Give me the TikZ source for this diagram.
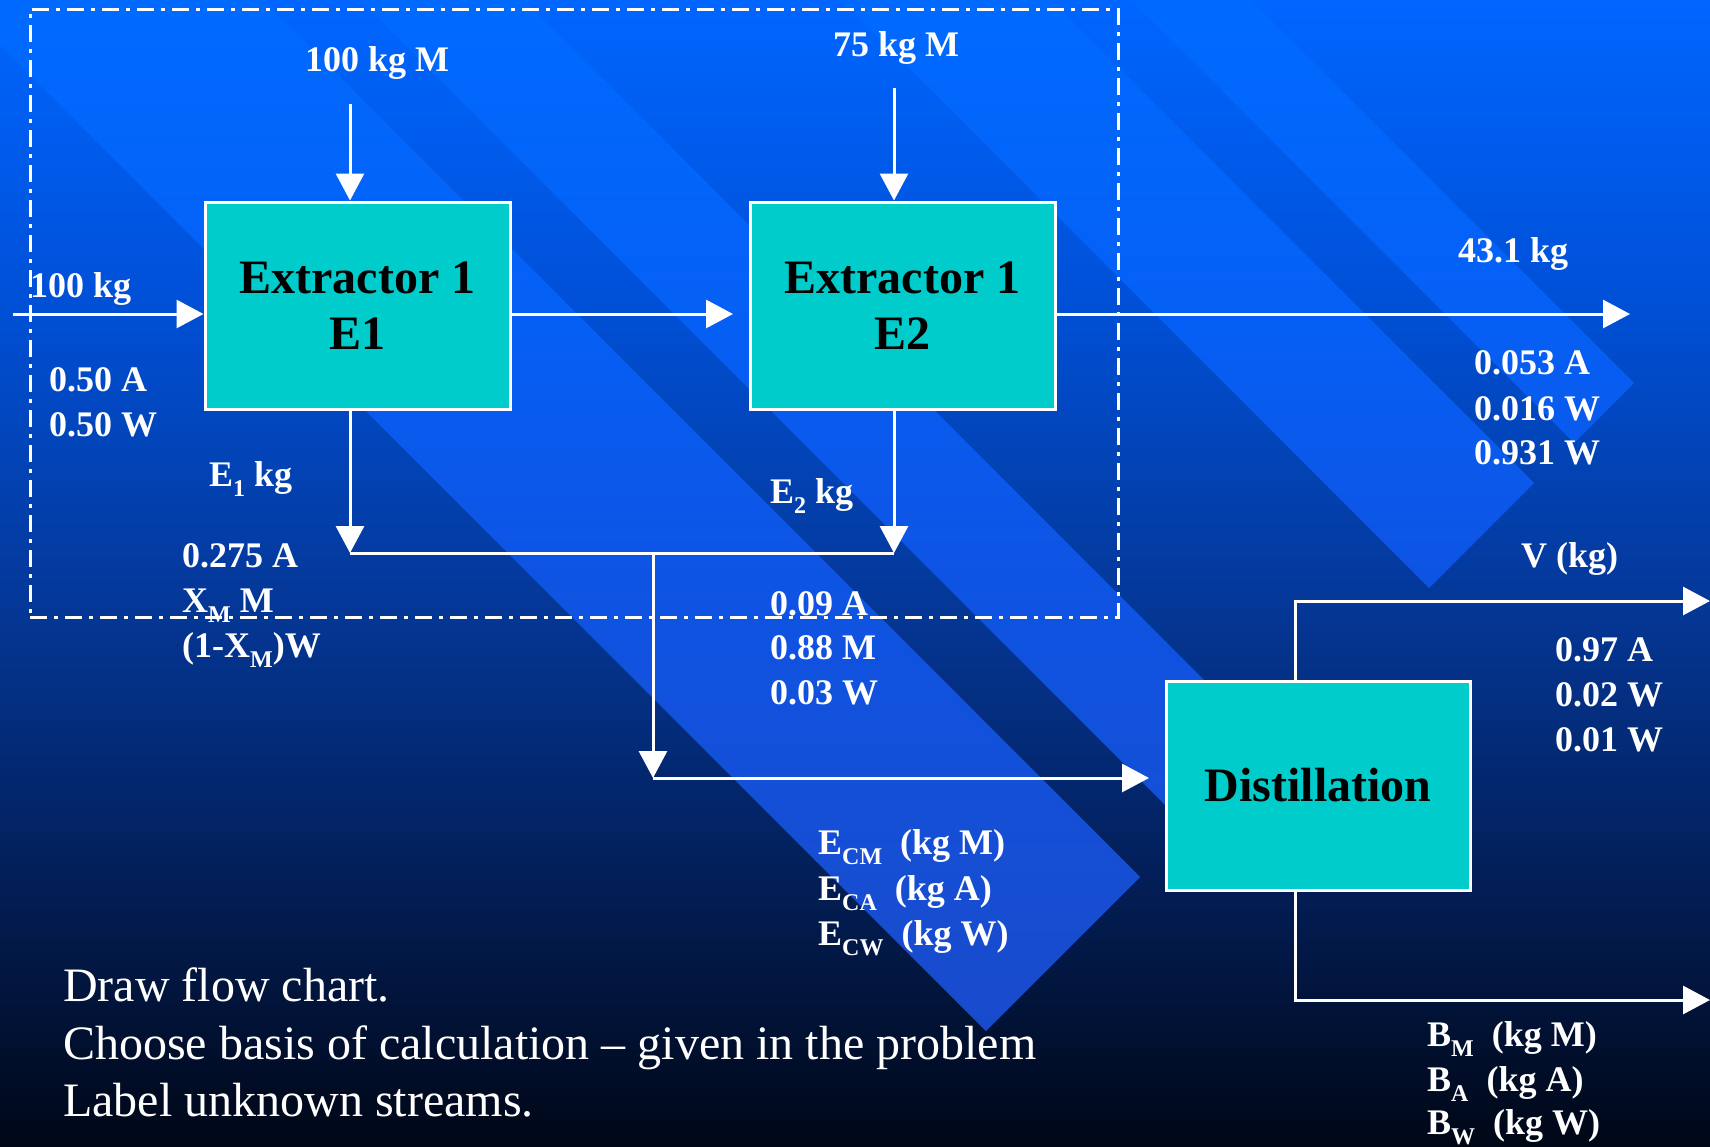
\documentclass[tikz,border=0pt]{standalone}
\usepackage{fontspec}
\setmainfont{Liberation Serif}
\usetikzlibrary{arrows.meta,calc}
\definecolor{boxc}{RGB}{0,204,204}
\definecolor{bgA}{RGB}{0,102,255}
\definecolor{bgB}{RGB}{0,80,215}
\definecolor{bgC}{RGB}{4,58,158}
\definecolor{bgD}{RGB}{3,32,92}
\definecolor{bgE}{RGB}{0,7,22}
\definecolor{bdA}{RGB}{0,106,255}
\definecolor{bdB}{RGB}{5,96,246}
\definecolor{bdC}{RGB}{14,84,228}
\definecolor{bdD}{RGB}{22,78,212}
\definecolor{bdE}{RGB}{26,72,198}
\newcommand{\lblfont}{\fontsize{36}{45}\selectfont\bfseries}
\newcommand{\boxfont}{\fontsize{48}{56}\selectfont\bfseries}
\newcommand{\notefont}{\fontsize{48}{58}\selectfont}
\newcommand{\sbs}[1]{\raisebox{-10pt}{\fontsize{24}{24}\selectfont #1}}
\begin{document}
\begin{tikzpicture}[x=1pt,y=-1pt,
  flow/.style={draw=white, line width=3pt, -{Triangle[length=27pt,width=28pt]}},
  plain/.style={draw=white, line width=3pt},
  procbox/.style={draw=white, line width=3pt, fill=boxc, text=black, align=center, inner sep=0pt, font=\boxfont},
  lbl/.style={text=white, inner sep=0pt, anchor=base west, font=\lblfont},
  note/.style={text=white, inner sep=0pt, anchor=base west, font=\notefont},
  boundary/.style={draw=white, line width=3pt, dash pattern=on 17pt off 7pt on 4pt off 7pt}
]
\useasboundingbox (0,0) rectangle (1710,1146);
% background gradient
\shade[top color=bgA, bottom color=bgB] (0,-1) rectangle (1710,301);
\shade[top color=bgB, bottom color=bgC] (0,300) rectangle (1710,574);
\shade[top color=bgC, bottom color=bgD] (0,573) rectangle (1710,861);
\shade[top color=bgD, bottom color=bgE] (0,860) rectangle (1710,1147);
% light diagonal bands
\begin{scope}
\clip (-55,-10) -- (253,-10) -- (1140,877) -- (986,1031) -- cycle
      (350,-10) -- (514,-10) -- (1270.5,746.5) -- (1188.5,828.5) -- cycle
      (831,-10) -- (1041,-10) -- (1534,483) -- (1429,588) -- cycle
      (1121,-10) -- (1241,-10) -- (1634,383) -- (1574,443) -- cycle;
\shade[top color=bdA, bottom color=bdB] (0,-1) rectangle (1710,301);
\shade[top color=bdB, bottom color=bdC] (0,300) rectangle (1710,574);
\shade[top color=bdC, bottom color=bdD] (0,573) rectangle (1710,861);
\shade[top color=bdD, bottom color=bdE] (0,860) rectangle (1710,1147);
\end{scope}
% dash-dot boundary
\node[boundary, inner sep=0pt, minimum width=1088pt, minimum height=608pt] (bnd) at (574,313) {};
% process boxes
\node[procbox, minimum width=305pt, minimum height=207pt] (e1) at (357.5,305.5) {Extractor 1\\E1};
\node[procbox, minimum width=305pt, minimum height=207pt] (e2) at (902.5,305.5) {Extractor 1\\E2};
\node[procbox, minimum width=304pt, minimum height=209pt] (dist) at (1318,785.5) {Distillation};
% coordinates
\coordinate (feed) at (13,314);
\coordinate (m1) at (350,104);
\coordinate (m2) at (894,88);
\coordinate (e2in) at (733,314);
\coordinate (raf) at (1630,314);
\coordinate (j1) at (350,553);
\coordinate (j2) at (894,553);
\coordinate (j3) at (653,553);
\coordinate (j4) at (653,778);
\coordinate (din) at (1149,778);
\coordinate (v1) at (1295,601);
\coordinate (vout) at (1710,601);
\coordinate (b1) at (1295,1000);
\coordinate (bout) at (1710,1000);
% connectors
\draw[flow] (feed) -- (feed -| e1.west);
\draw[flow] (m1) -- (m1 |- e1.north);
\draw[flow] (m2) -- (m2 |- e2.north);
\draw[flow] (feed -| e1.east) -- (e2in);
\draw[flow] (feed -| e2.east) -- (raf);
\draw[flow] (m1 |- e1.south) -- (j1);
\draw[flow] (m2 |- e2.south) -- (j2);
\draw[plain] (j1) -- (j2);
\draw[flow] (j3) -- (j4);
\draw[flow] (j4) -- (din);
\draw[flow] (v1 |- dist.north) -- (v1) -- (vout);
\draw[flow] (b1 |- dist.south) -- (b1) -- (bout);
% labels
\node[lbl] (t100M) at (305,71) {100 kg M};
\node[lbl] (t75M) at (833,56) {75 kg M};
\node[lbl] (t100) at (30,297) {100 kg};
\node[lbl] (f1a) at (49,391) {0.50 A};
\node[lbl] (f1b) at (49,436) {0.50 W};
\node[lbl] (e1kg) at (209,486) {E\sbs{1} kg};
\node[lbl] (x1a) at (182,567) {0.275 A};
\node[lbl] (x1b) at (182,612) {X\sbs{M} M};
\node[lbl] (x1c) at (182,657) {(1-X\sbs{M})W};
\node[lbl] (e2kg) at (770,503) {E\sbs{2} kg};
\node[lbl] (x2a) at (770,615) {0.09 A};
\node[lbl] (x2b) at (770,659) {0.88 M};
\node[lbl] (x2c) at (770,704) {0.03 W};
\node[lbl] (ec1) at (818,854) {E\sbs{CM}~~(kg M)};
\node[lbl] (ec2) at (818,900) {E\sbs{CA}~~(kg A)};
\node[lbl] (ec3) at (818,945) {E\sbs{CW}~~(kg W)};
\node[lbl] (r431) at (1458,262) {43.1 kg};
\node[lbl] (r1a) at (1474,374) {0.053 A};
\node[lbl] (r1b) at (1474,420) {0.016 W};
\node[lbl] (r1c) at (1474,464) {0.931 W};
\node[lbl] (vkg) at (1521,567) {V (kg)};
\node[lbl] (v1a) at (1555,661) {0.97 A};
\node[lbl] (v1b) at (1555,706) {0.02 W};
\node[lbl] (v1c) at (1555,751) {0.01 W};
\node[lbl] (bm) at (1427,1046) {B\sbs{M}~~(kg M)};
\node[lbl] (ba) at (1427,1091) {B\sbs{A}~~(kg A)};
\node[lbl] (bw) at (1427,1134) {B\sbs{W}~~(kg W)};
% notes
\node[note] (d1) at (63,1001) {Draw flow chart.};
\node[note] (d2) at (63,1059) {Choose basis of calculation \textendash{} given in the problem};
\node[note] (d3) at (63,1116) {Label unknown streams.};
\end{tikzpicture}
\end{document}
